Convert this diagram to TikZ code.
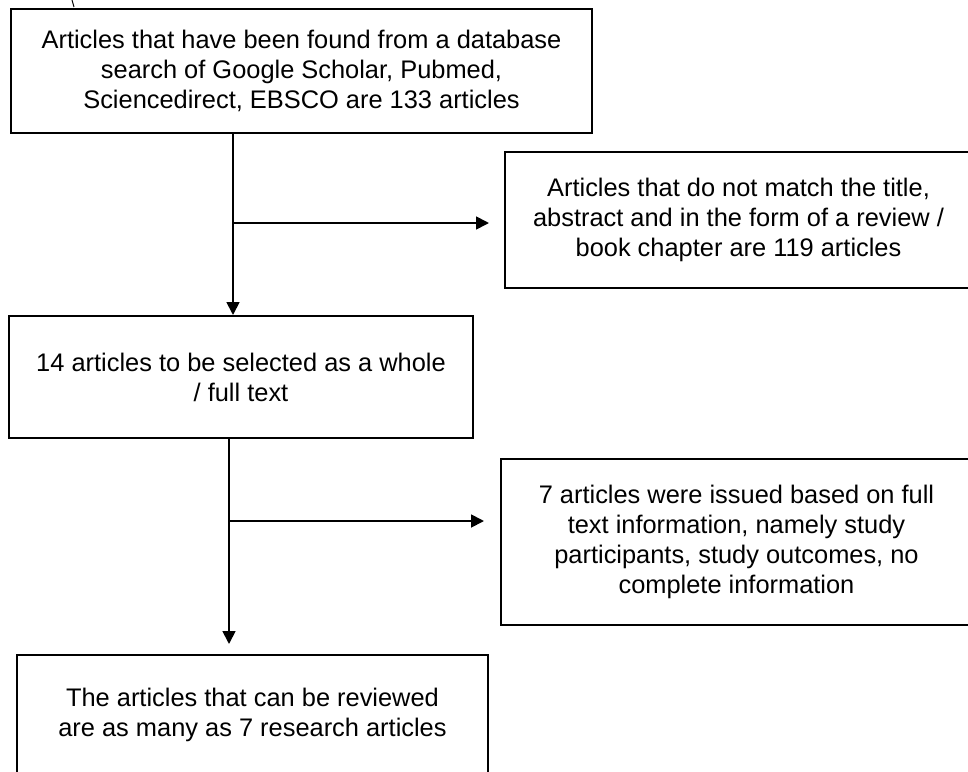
\documentclass[tikz,border=0pt]{standalone}
\usepackage{fontspec}
\setmainfont{Liberation Sans}
\usepackage{tikz}
\usetikzlibrary{positioning,arrows.meta}

\begin{document}
\begin{tikzpicture}[
  x=1bp, y=-1bp,
  box/.style={
    draw=black,
    line width=2bp,
    align=center,
    inner sep=0pt,
    font=\fontsize{25.5}{30}\selectfont,
  },
  line/.style={
    line width=1.8bp,
    draw=black,
  },
  arr/.style={
    line,
    -{Triangle[length=13bp,width=13bp]},
  }]
  \useasboundingbox (0,0) rectangle (968,772);
  \clip (0,0) rectangle (968,772);
  \node[box, minimum width=581bp, minimum height=124bp] (found) at (301.5,71)
    {Articles that have been found from a database\\
     search of Google Scholar, Pubmed,\\
     Sciencedirect, EBSCO are 133 articles};
  \node[box, minimum width=464bp, minimum height=122bp] (whole) at (241,377)
    {14 articles to be selected as a whole\\
     / full text};
  \node[box, minimum width=467bp, minimum height=136bp] (excl1) at (738.5,220)
    {Articles that do not match the title,\\
     abstract and in the form of a review /\\
     book chapter are 119 articles};
  \node[box, minimum width=471bp, minimum height=166bp] (excl2) at (736.5,542)
    {7 articles were issued based on full\\
     text information, namely study\\
     participants, study outcomes, no\\
     complete information};
  \node[box, minimum width=471bp, minimum height=120bp] (rev) at (252.5,715)
    {The articles that can be reviewed\\
     are as many as 7 research articles};
  \coordinate (split1) at (233,223);
  \coordinate (split2) at (229,521);
  % main flow
  \draw[arr] (found.south -| split1) -- (whole.north -| split1);
  \draw[arr, shorten >=10bp] (whole.south -| split2) -- (rev.north -| split2);
  % excluded
  \draw[arr, shorten >=15bp] (split1) -- (split1 -| excl1.west);
  \draw[arr, shorten >=16bp] (split2) -- (split2 -| excl2.west);
  \draw[line width=1bp] (72,0) -- (74,7);
\end{tikzpicture}
\end{document}
